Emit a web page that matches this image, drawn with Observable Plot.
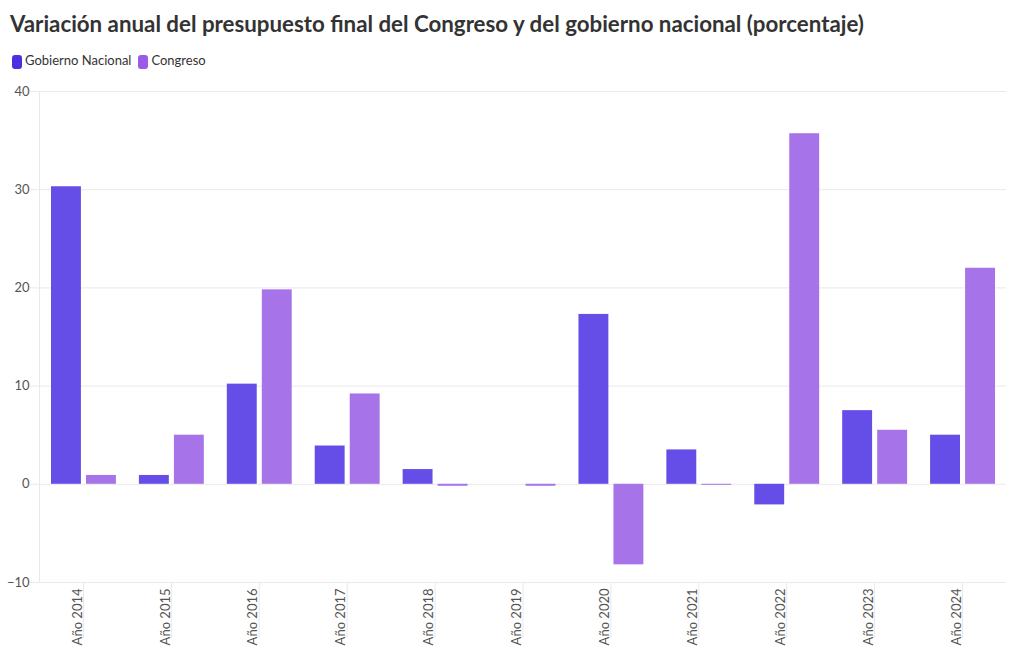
<!DOCTYPE html>
<html><head><meta charset="utf-8">
<script src="https://cdn.jsdelivr.net/npm/d3@7"></script>
<script src="https://cdn.jsdelivr.net/npm/@observablehq/plot@0.6"></script>
<style>
body{margin:0;background:#fff;font-family:Lato,"Open Sans",sans-serif;}
#title{position:absolute;left:10px;top:10px;font-size:22.3px;font-weight:700;color:#333;white-space:nowrap;}
#legend{position:absolute;left:12px;top:52px;font-size:13px;color:#333;display:flex;gap:7px;align-items:center;}
.sw{display:inline-block;width:10px;height:14px;border-radius:3px;vertical-align:middle;margin-right:3px;}
#chart{position:absolute;left:0;top:75px;}
</style></head><body>
<div id="title">Variación anual del presupuesto final del Congreso y del gobierno nacional (porcentaje)</div>
<div id="legend"></div>
<div id="chart"></div>
<script>
const years = ["Año 2014","Año 2015","Año 2016","Año 2017","Año 2018","Año 2019","Año 2020","Año 2021","Año 2022","Año 2023","Año 2024"];
const seriesNames = ["Gobierno Nacional","Congreso"];
const gobierno = [30.3, 0.9, 10.2, 3.9, 1.5, 0, 17.3, 3.5, -2.1, 7.5, 5.0];
const congreso = [0.9, 5.0, 19.8, 9.2, -0.2, -0.2, -8.2, -0.1, 35.7, 5.5, 22.0];
const yTicks = [-10, 0, 10, 20, 30, 40];
const barColors = ["#654ee8", "#a673e8"];
const legendColors = ["#4b30e2", "#9b5be6"];

const legend = document.getElementById("legend");
seriesNames.forEach((n, i) => {
  const s = document.createElement("span");
  s.innerHTML = `<span class="sw" style="background:${legendColors[i]}"></span>${n}`;
  legend.appendChild(s);
});

const gobData = years.map((y, i) => ({year: y, value: gobierno[i]}));
const conData = years.map((y, i) => ({year: y, value: congreso[i]}));

const chart = Plot.plot({
  width: 1020,
  height: 575,
  marginLeft: 39,
  marginRight: 14,
  marginTop: 16,
  marginBottom: 68,
  style: {fontFamily: "Lato, 'Open Sans', sans-serif", fontSize: "13px", background: "white"},
  x: {domain: years, padding: 0, round: false, label: null},
  y: {domain: [-10, 40], ticks: yTicks, label: null},
  marks: [
    Plot.gridY(yTicks, {stroke: "#e9e9e9", strokeOpacity: 1}),
    Plot.frame({anchor: "left", stroke: "#e9e9e9"}),
    Plot.axisY(yTicks, {text: null, tickSize: 9, stroke: "#e9e9e9", label: null}),
    Plot.axisY(yTicks, {tickSize: 0, tickPadding: 10, fill: "#555", fontSize: 13, label: null}),
    Plot.axisX({text: null, tickSize: 56, stroke: "#e9e9e9", label: null}),
    Plot.axisX({tickSize: 0, tickPadding: 6, tickRotate: -90, dx: -6, fill: "#555", fontSize: 13, label: null}),
    Plot.barY(gobData, {x: "year", y: "value", fill: barColors[0], insetLeft: 12, insetRight: 46}),
    Plot.barY(conData, {x: "year", y: "value", fill: barColors[1], insetLeft: 47, insetRight: 11})
  ]
});
document.getElementById("chart").appendChild(chart);
</script>
</body></html>
